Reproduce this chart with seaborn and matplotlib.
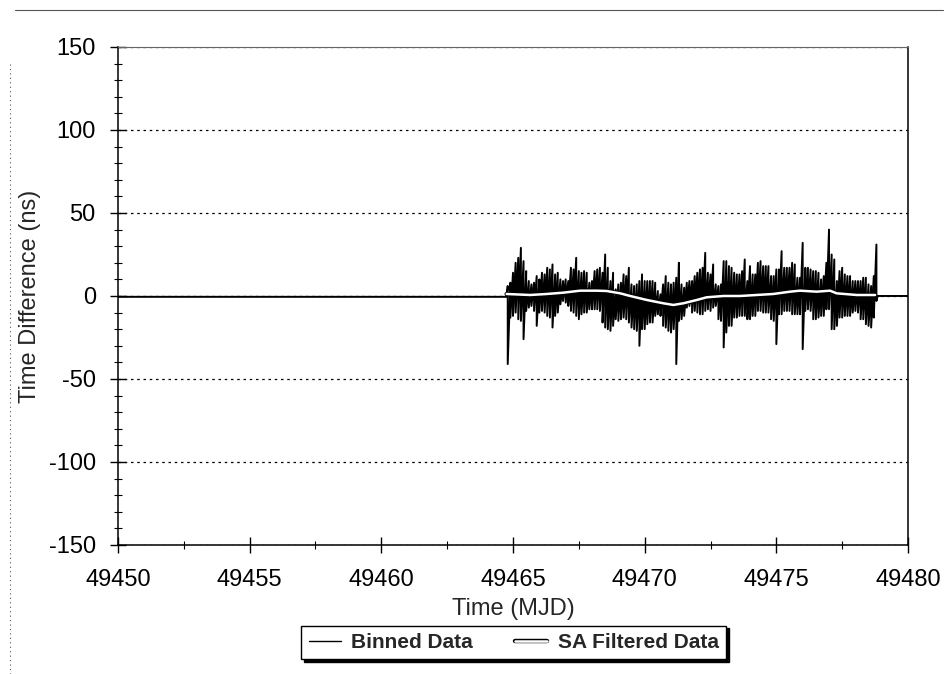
import numpy as np
import pandas as pd
import seaborn as sns
import matplotlib.pyplot as plt
import matplotlib.patheffects as pe
from matplotlib.lines import Line2D
from matplotlib.ticker import MultipleLocator

sns.set_style("ticks")
plt.rcParams["font.family"] = ["Liberation Sans", "DejaVu Sans"]
plt.rcParams["axes.unicode_minus"] = False

# binned data, quiet stretches before and after the noisy run
quiet_before_t = [49450.0, 49464.75]
quiet_before_v = [-0.5, -0.5]
quiet_after_t = [49478.85, 49480.0]
quiet_after_v = [0.0, 0.0]

# noisy run: upper / lower extremes read every 0.1 day from 49464.8
noise_start = 49464.8
noise_step = 0.1
noise_hi = [6, 8, 14, 20, 23, 29, 21, 15, 9, 7,
            8, 12, 10, 14, 13, 17, 16, 19, 13, 14,
            10, 9, 10, 9, 17, 16, 23, 15, 14, 15,
            14, 8, 9, 15, 16, 17, 14, 25, 17, 9,
            14, 4, 7, 8, 13, 12, 17, 7, 6, 7,
            9, 13, 9, 9, 9, 9, 8, 3, 1, 7,
            12, 8, 7, 8, 11, 20, 7, 5, 8, 9,
            9, 12, 14, 16, 17, 26, 14, 13, 19, 7,
            6, 7, 21, 21, 18, 17, 14, 13, 13, 15,
            22, 9, 18, 13, 13, 20, 21, 18, 18, 18,
            12, 12, 16, 16, 27, 17, 17, 17, 20, 19,
            11, 11, 32, 17, 17, 16, 15, 15, 14, 10,
            12, 20, 40, 25, 22, 9, 15, 17, 13, 12,
            12, 9, 9, 9, 9, 11, 11, 7, 6, 12,
            31]
noise_lo = [-41, -13, -12, -10, -14, -15, -26, -9, -7, -6,
            -9, -18, -10, -9, -10, -12, -13, -19, -12, -10,
            -5, -3, -4, -6, -9, -10, -12, -14, -11, -10,
            -10, -8, -8, -8, -8, -9, -16, -19, -20, -21,
            -18, -14, -15, -14, -13, -14, -16, -19, -20, -21,
            -30, -20, -20, -17, -16, -16, -12, -11, -12, -18,
            -19, -21, -22, -20, -41, -15, -14, -12, -7, -6,
            -10, -9, -10, -11, -11, -9, -8, -9, -7, -6,
            -14, -15, -31, -22, -18, -18, -13, -13, -12, -12,
            -12, -14, -14, -12, -12, -9, -9, -10, -10, -10,
            -14, -15, -29, -11, -11, -9, -9, -9, -11, -11,
            -11, -11, -32, -9, -8, -9, -14, -14, -13, -12,
            -12, -8, -8, -20, -20, -18, -13, -13, -12, -12,
            -12, -10, -9, -10, -14, -14, -17, -18, -19, -13,
            -3]

# SA filtered curve
sa_t = [49464.76, 49465.65, 49466.28, 49466.91, 49467.55, 49468.18, 49468.56,
        49469.07, 49469.45, 49470.08, 49470.71, 49471.09, 49471.47, 49471.98,
        49472.35, 49472.99, 49473.62, 49474.25, 49474.88, 49475.52, 49475.90,
        49476.53, 49477.04, 49477.29, 49478.05, 49478.75]
sa_v = [1.2, 0.6, 1.2, 2.0, 3.2, 3.2, 3.0,
        1.6, 0.0, -2.4, -4.4, -5.4, -4.4, -2.4,
        -0.8, 0.0, 0.0, 0.6, 1.2, 2.6, 3.2,
        2.6, 3.2, 1.6, 0.6, 0.6]

# build the binned series: each noisy sample drawn as a stroke hi -> lo
noise_t = noise_start + noise_step * np.arange(len(noise_hi))
mid_t = np.repeat(noise_t, 2)
mid_v = np.ravel(np.column_stack([noise_hi, noise_lo]))
binned = pd.DataFrame({
    "t": np.concatenate([quiet_before_t, mid_t, quiet_after_t]),
    "v": np.concatenate([quiet_before_v, mid_v, quiet_after_v]),
})
sa = pd.DataFrame({"t": sa_t, "v": sa_v})

fig = plt.figure(figsize=(9.53, 6.74), dpi=100)
ax = fig.add_axes([0.1238, 0.1914, 0.829, 0.7389])

sns.lineplot(data=binned, x="t", y="v", sort=False, estimator=None,
             color="black", lw=1.4, ax=ax)
sa_fx = [pe.Stroke(linewidth=3.2, foreground="black"), pe.Normal()]
sns.lineplot(data=sa, x="t", y="v", sort=False, estimator=None,
             color="white", lw=1.8, ax=ax, path_effects=sa_fx)

ax.set_xlim(49450, 49480)
ax.set_ylim(-150, 150)
ax.xaxis.set_major_locator(MultipleLocator(5))
ax.xaxis.set_minor_locator(MultipleLocator(2.5))
ax.yaxis.set_major_locator(MultipleLocator(50))
ax.yaxis.set_minor_locator(MultipleLocator(10))
ax.xaxis.set_major_formatter(plt.FuncFormatter(lambda x, p: f"{int(round(x))}"))

ax.tick_params(which="major", direction="inout", length=12, width=1.0,
               labelsize=17, colors="black")
ax.tick_params(axis="x", which="major", pad=11)
ax.tick_params(axis="y", which="major", pad=10)
ax.tick_params(which="minor", direction="inout", length=6, width=0.8,
               colors="black")

ax.yaxis.grid(True, linestyle=(0, (2, 3)), color="black", lw=0.9)
ax.xaxis.grid(False)

for side in ["left", "bottom", "right"]:
    ax.spines[side].set_color("black")
    ax.spines[side].set_linewidth(1.1)
ax.spines["top"].set_color("#666666")
ax.spines["top"].set_linewidth(0.8)

ax.set_xlabel("Time (MJD)", fontsize=17)
ax.set_ylabel("Time Difference (ns)", fontsize=17)
ax.xaxis.set_label_coords(0.5, -0.107)
ax.yaxis.set_label_coords(-0.098, 0.5)

handles = [
    Line2D([], [], color="black", lw=1.0),
    Line2D([], [], color="white", lw=1.8, path_effects=sa_fx),
]
leg = ax.legend(handles, ["Binned Data", "SA Filtered Data"], ncol=2,
                loc="center", bbox_to_anchor=(0.539, 0.047),
                bbox_transform=fig.transFigure, frameon=True, fancybox=False,
                shadow={"color": "black", "alpha": 1.0},
                edgecolor="black", handlelength=1.55, handletextpad=0.5,
                columnspacing=2.0, borderpad=0.35,
                prop={"size": 15, "weight": "bold"})
leg.get_frame().set_linewidth(1.0)

# faint frame left over from the scanned page
fig.add_artist(Line2D([0.016, 0.99], [0.985, 0.985], transform=fig.transFigure,
                      color="#555555", lw=0.8))
fig.add_artist(Line2D([0.010, 0.010], [0.0, 0.91], transform=fig.transFigure,
                      color="#555555", lw=0.8, linestyle=(0, (1, 3))))

fig.savefig("out.png", dpi=100)
plt.close(fig)
